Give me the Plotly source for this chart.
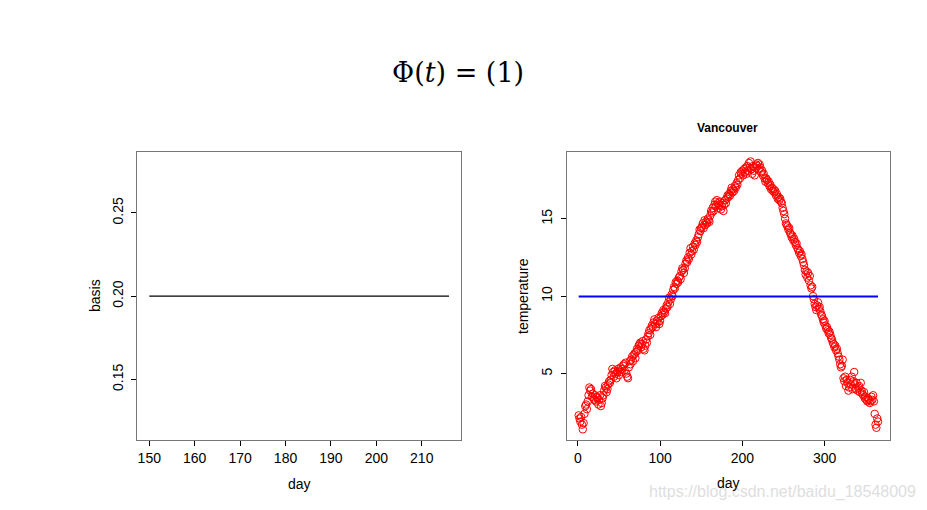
import plotly.graph_objects as go

# left panel: the constant basis function over days 150..216
basis_days = list(range(150, 217))
basis_vals = [0.2] * len(basis_days)

# right panel: Vancouver daily temperature and the constant fit
temp_days = list(range(1, 366))
temps = [
    2.3, 2.1, 1.9, 2.2, 1.7, 1.4, 1.8, 2.4, 2.9, 3.0,
    2.7, 3.2, 3.6, 4.1, 3.9, 4.0, 3.5, 3.7, 3.4, 3.3,
    3.6, 3.2, 3.5, 3.4, 3.0, 3.3, 3.6, 2.9, 3.1, 3.4,
    3.6, 3.9, 4.2, 4.1, 3.8, 4.0, 4.3, 4.5, 4.4, 4.6,
    4.9, 5.3, 5.1, 4.8, 5.2, 5.0, 4.7, 5.1, 5.3, 4.9,
    5.2, 5.4, 5.1, 5.3, 5.5, 5.6, 5.2, 5.7, 5.0, 4.8,
    4.7, 5.4, 5.8, 5.6, 5.9, 6.1, 5.8, 6.2, 6.3, 6.0,
    6.4, 6.6, 6.5, 6.8, 6.9, 7.0, 6.7, 6.9, 7.1, 6.6,
    6.5, 6.8, 7.2, 7.0, 7.4, 7.6, 7.8, 7.5, 7.9, 8.1,
    8.0, 8.3, 8.5, 8.2, 8.0, 8.4, 8.3, 8.6, 8.2, 8.4,
    8.7, 8.9, 8.8, 9.1, 9.0, 8.9, 9.2, 9.4, 9.3, 9.6,
    9.9, 9.5, 9.8, 10.1, 10.0, 10.4, 10.6, 10.5, 10.9, 10.8,
    11.0, 10.9, 11.2, 11.3, 11.1, 11.6, 11.8, 11.7, 11.5, 11.8,
    12.1, 12.3, 12.2, 12.5, 12.4, 12.8, 13.1, 12.7, 12.9, 13.2,
    13.0, 13.4, 13.3, 13.6, 13.5, 13.8, 14.0, 14.3, 14.2, 14.4,
    14.5, 14.7, 14.4, 14.9, 14.6, 14.8, 14.7, 15.0, 14.9, 14.8,
    15.2, 15.5, 15.4, 15.7, 15.5, 15.9, 16.1, 15.8, 16.2, 16.0,
    15.7, 15.9, 16.1, 15.6, 15.8, 16.0, 15.5, 15.9, 16.2, 16.0,
    16.3, 16.5, 16.4, 16.6, 16.5, 16.8, 17.0, 16.7, 16.9, 16.8,
    17.1, 17.0, 17.3, 17.2, 17.5, 17.8, 17.6, 18.0, 17.9, 18.1,
    17.8, 18.2, 18.0, 18.3, 17.9, 18.4, 18.1, 18.6, 18.3, 18.7,
    18.2, 17.9, 18.4, 18.1, 17.8, 18.3, 18.5, 18.4, 18.6, 18.2,
    18.5, 18.3, 18.0, 18.1, 17.8, 17.9, 17.6, 17.4, 17.6, 17.5,
    17.3, 17.4, 17.1, 17.2, 16.9, 17.0, 16.8, 16.9, 16.7, 16.8,
    16.5, 16.6, 16.3, 16.4, 16.2, 16.3, 16.1, 16.0, 15.7, 15.5,
    15.3, 15.0, 14.7, 14.6, 14.5, 14.3, 14.4, 14.1, 14.0, 13.8,
    13.9, 13.6, 13.7, 13.5, 13.3, 13.4, 13.1, 13.0, 12.8, 12.9,
    12.6, 12.7, 12.4, 12.2, 12.0, 11.7, 11.4, 11.6, 11.2, 11.5,
    11.0, 11.3, 10.7, 10.5, 10.6, 10.0, 9.8, 9.5, 9.3, 9.1,
    9.4, 9.6, 9.2, 9.3, 9.0, 8.8, 8.7, 8.5, 8.3, 8.4,
    8.1, 7.9, 8.0, 7.8, 7.6, 7.7, 7.5, 7.3, 7.2, 7.0,
    6.9, 6.7, 6.8, 6.5, 6.6, 6.3, 6.1, 5.9, 5.6, 5.4,
    5.5, 5.9, 4.7, 4.5, 4.8, 4.2, 4.6, 4.4, 3.9, 4.1,
    4.6, 4.3, 4.8, 4.0, 4.5, 5.1, 4.3, 4.0, 4.4, 3.9,
    4.1, 4.2, 3.8, 4.4, 3.9, 3.7, 3.6, 3.8, 3.4, 3.5,
    3.3, 3.2, 3.4, 3.3, 3.1, 3.2, 3.5, 3.3, 3.6, 3.2,
    2.4, 1.7, 1.5, 2.1, 1.9,
]
fit_val = 9.97
fit_line = [fit_val] * len(temp_days)

left_xticks = [150, 160, 170, 180, 190, 200, 210]
left_yticks = [0.15, 0.20, 0.25]
right_xticks = [0, 100, 200, 300]
right_yticks = [5, 10, 15]

font = "Liberation Sans, Arial, sans-serif"

# the page body has an 8px margin, so work in window pixels and shift
W, H, OFF = 919, 502, 8


def px(x):
    return (x - OFF) / W


def py(y):
    return 1 - (y - OFF) / H


fig = go.Figure()
fig.add_trace(go.Scatter(x=basis_days, y=basis_vals, mode="lines",
                         line=dict(color="black", width=1.3),
                         xaxis="x", yaxis="y", showlegend=False))
fig.add_trace(go.Scatter(x=temp_days, y=temps, mode="markers",
                         marker=dict(symbol="circle-open", size=7.5, color="red",
                                     line=dict(width=1)),
                         xaxis="x2", yaxis="y2", showlegend=False))
fig.add_trace(go.Scatter(x=temp_days, y=fit_line, mode="lines",
                         line=dict(color="blue", width=2),
                         xaxis="x2", yaxis="y2", showlegend=False))

ax = dict(showline=True, mirror=True, linecolor="#777777", linewidth=1,
          ticks="outside", ticklen=5, tickcolor="black", showgrid=False,
          zeroline=False, tickfont=dict(family=font, size=14, color="black"))

fig.update_layout(
    width=W, height=H,
    margin=dict(l=0, r=0, t=0, b=0),
    paper_bgcolor="white", plot_bgcolor="white",
    xaxis=dict(ax, domain=[px(137.3), px(461)], range=[147.36, 218.64],
               tickvals=left_xticks, anchor="y"),
    yaxis=dict(ax, domain=[py(440), py(152.3)], range=[0.1136, 0.2864],
               tickvals=left_yticks, ticktext=["0.15", "0.20", "0.25"],
               tickangle=-90, ticklabelstandoff=3, anchor="x"),
    xaxis2=dict(ax, domain=[px(566.7), px(890)], range=[-13.56, 379.56],
                tickvals=right_xticks, anchor="y2"),
    yaxis2=dict(ax, domain=[py(440), py(152.3)], range=[0.71, 19.29],
                tickvals=right_yticks, tickangle=-90, ticklabelstandoff=3,
                anchor="x2"),
)

notes = [
    dict(text="Φ(<i>t</i>) = (1)", x=458, y=72, size=27,
         family="DejaVu Serif, serif", angle=0),
    dict(text="<b>Vancouver</b>", x=727, y=128, size=12, family=font, angle=0),
    dict(text="day", x=299, y=484, size=14, family=font, angle=0),
    dict(text="day", x=728, y=483, size=14, family=font, angle=0),
    dict(text="basis", x=95, y=296, size=14, family=font, angle=-90),
    dict(text="temperature", x=523, y=296, size=14, family=font, angle=-90),
]

# watermark first so the axis title sits on top of it, as in the picture
fig.add_annotation(text="https://blog.csdn.net/baidu_18548009", xref="paper",
                   yref="paper", x=px(918), y=py(492), xanchor="right",
                   yanchor="middle", showarrow=False,
                   font=dict(family=font, size=16, color="rgb(222,222,222)"))

for n in notes:
    fig.add_annotation(text=n["text"], xref="paper", yref="paper",
                       x=px(n["x"]), y=py(n["y"]),
                       xanchor="center", yanchor="middle", showarrow=False,
                       textangle=n["angle"],
                       font=dict(family=n["family"], size=n["size"], color="black"))

fig.write_html("out.html")
